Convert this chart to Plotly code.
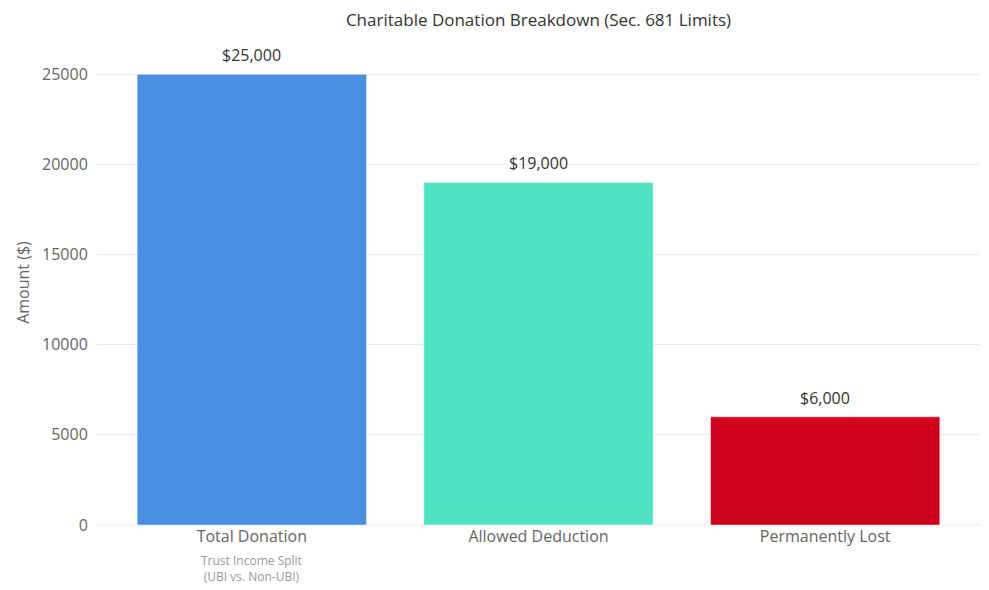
import plotly.graph_objects as go

categories = ["Total Donation", "Allowed Deduction", "Permanently Lost"]
amounts = [25000, 19000, 6000]
bar_labels = ["$25,000", "$19,000", "$6,000"]
bar_colors = ["#4A90E2", "#50E3C2", "#D0021B"]
note_text = "Trust Income Split<br>(UBI vs. Non-UBI)"

font_family = "'Open Sans', Roboto, sans-serif"

bars = go.Bar(
    x=categories,
    y=amounts,
    marker=dict(color=bar_colors),
    hovertext=bar_labels,
)

fig = go.Figure(data=bars)

# page body has an 8px margin, so margins are offset to land the plot area
fig.update_layout(
    template="plotly_white",
    width=989,
    height=590,
    font=dict(family=font_family, size=16, color="#666666"),
    title=dict(
        text="Charitable Donation Breakdown (Sec. 681 Limits)",
        x=0.5,
        xref="paper",
        y=0.979,
        yanchor="middle",
        font=dict(size=17, color="#333333"),
    ),
    margin=dict(l=89, r=17, t=32, b=73),
    bargap=0.2,
    showlegend=False,
    xaxis=dict(range=[-0.54, 2.54], tickfont=dict(size=16, color="#666666")),
    yaxis=dict(
        title=dict(text="Amount ($)", font=dict(size=16, color="#666666"), standoff=8),
        automargin=True,
        range=[0, 26900],
        tickvals=[0, 5000, 10000, 15000, 20000, 25000],
        tickformat="d",
        ticks="outside",
        ticklen=5,
        tickcolor="rgba(0,0,0,0)",
        tickfont=dict(size=16, color="#666666"),
        gridcolor="#E8ECF2",
        zerolinecolor="#F5F5F5",
    ),
)

# value labels above each bar
for cat, amt, lab in zip(categories, amounts, bar_labels):
    fig.add_annotation(
        x=cat,
        y=amt,
        yshift=6,
        text=lab,
        showarrow=False,
        yanchor="bottom",
        font=dict(size=16, color="#333333"),
    )

fig.add_annotation(
    x=categories[0],
    y=0,
    yref="paper",
    yshift=-25,
    text=note_text,
    showarrow=False,
    yanchor="top",
    font=dict(size=12, color="#999999"),
)

fig.write_html("out.html")
